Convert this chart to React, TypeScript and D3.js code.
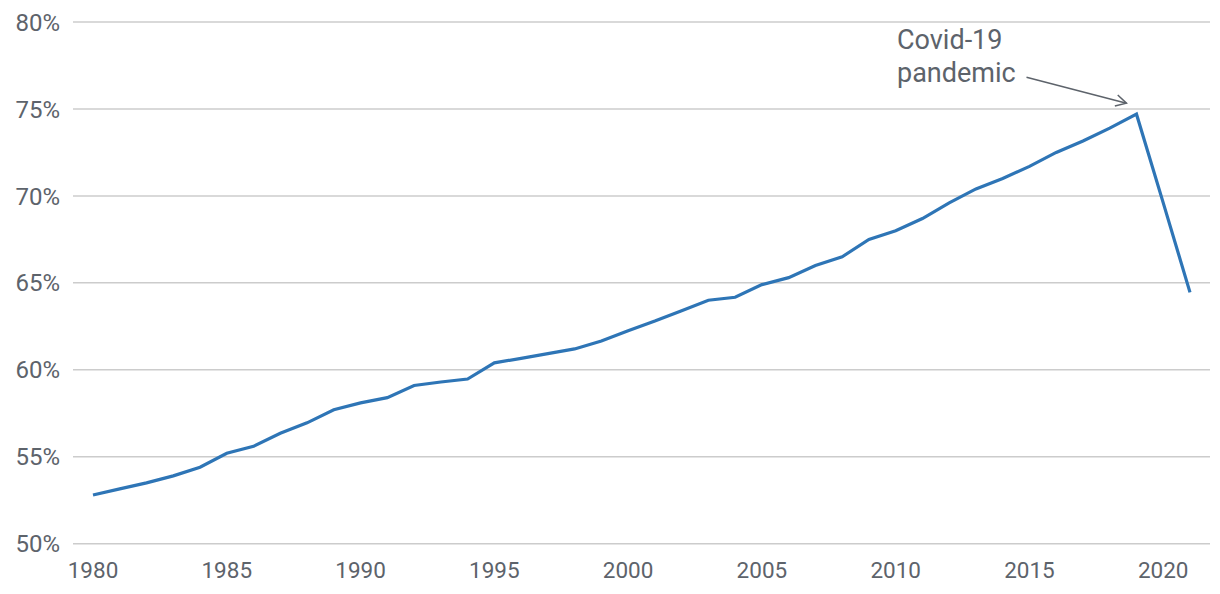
import React from "react";
import * as d3 from "d3";

const years = [
  1980, 1981, 1982, 1983, 1984, 1985, 1986, 1987, 1988, 1989, 1990,
  1991, 1992, 1993, 1994, 1995, 1996, 1997, 1998, 1999, 2000,
  2001, 2002, 2003, 2004, 2005, 2006, 2007, 2008, 2009, 2010,
  2011, 2012, 2013, 2014, 2015, 2016, 2017, 2018, 2019, 2020, 2021,
];
const values = [
  52.8, 53.15, 53.5, 53.9, 54.4, 55.2, 55.6, 56.35, 56.95, 57.7, 58.1,
  58.4, 59.1, 59.3, 59.47, 60.4, 60.66, 60.93, 61.2, 61.65, 62.25,
  62.8, 63.4, 64.0, 64.17, 64.9, 65.3, 66.0, 66.5, 67.5, 68.0,
  68.7, 69.6, 70.4, 71.0, 71.7, 72.5, 73.16, 73.9, 74.7, 69.6, 64.45,
];
const yTicks = [50, 55, 60, 65, 70, 75, 80];
const xTicks = [1980, 1985, 1990, 1995, 2000, 2005, 2010, 2015, 2020];
const annotationLines = ["Covid-19", "pandemic"];
const annotationYear = 2019;

const W = 1220;
const H = 594;
const FONT = "Roboto, 'Noto Sans', sans-serif";
const TEXT = "#5d636b";

export default function App() {
  const x = d3.scaleLinear().domain([1980, 2021]).range([93, 1190]);
  const y = d3.scaleLinear().domain([50, 80]).range([543.7, 22]);
  const data = years.map((yr, i) => ({ yr, v: values[i] }));
  const line = d3
    .line<{ yr: number; v: number }>()
    .x((d) => x(d.yr))
    .y((d) => y(d.v));

  const peakX = x(annotationYear);
  const peakY = y(values[years.indexOf(annotationYear)]);
  const ax1 = peakX - 110;
  const ay1 = peakY - 37;
  const ax2 = peakX - 10;
  const ay2 = peakY - 11;
  const ang = Math.atan2(ay2 - ay1, ax2 - ax1);
  const hl = 12;
  const spread = 0.5;
  const h1 = [ax2 - hl * Math.cos(ang - spread), ay2 - hl * Math.sin(ang - spread)];
  const h2 = [ax2 - hl * Math.cos(ang + spread), ay2 - hl * Math.sin(ang + spread)];

  return (
    <svg
      width={W}
      height={H}
      style={{ position: "absolute", left: 0, top: 0, background: "#fff" }}
      fontFamily={FONT}
    >
      {yTicks.map((t) => (
        <g key={t}>
          <line x1={73} x2={1210} y1={y(t)} y2={y(t)} stroke="#cccccc" strokeWidth={1.5} />
          <text x={60} y={y(t)} dy="0.36em" textAnchor="end" fontSize={24} fill={TEXT}>
            {t}%
          </text>
        </g>
      ))}
      {xTicks.map((t) => (
        <text key={t} x={x(t)} y={578} textAnchor="middle" fontSize={22.5} fill={TEXT}>
          {t}
        </text>
      ))}
      <path d={line(data) || ""} fill="none" stroke="#2e75b6" strokeWidth={3.2} strokeLinejoin="miter" />
      {annotationLines.map((s, i) => (
        <text key={s} x={897} y={49.3 + i * 33} fontSize={27} fill={TEXT}>
          {s}
        </text>
      ))}
      <line x1={ax1} y1={ay1} x2={ax2} y2={ay2} stroke="#5d636b" strokeWidth={1.5} />
      <polyline
        points={`${h1[0]},${h1[1]} ${ax2},${ay2} ${h2[0]},${h2[1]}`}
        fill="none"
        stroke="#5d636b"
        strokeWidth={1.5}
      />
    </svg>
  );
}
